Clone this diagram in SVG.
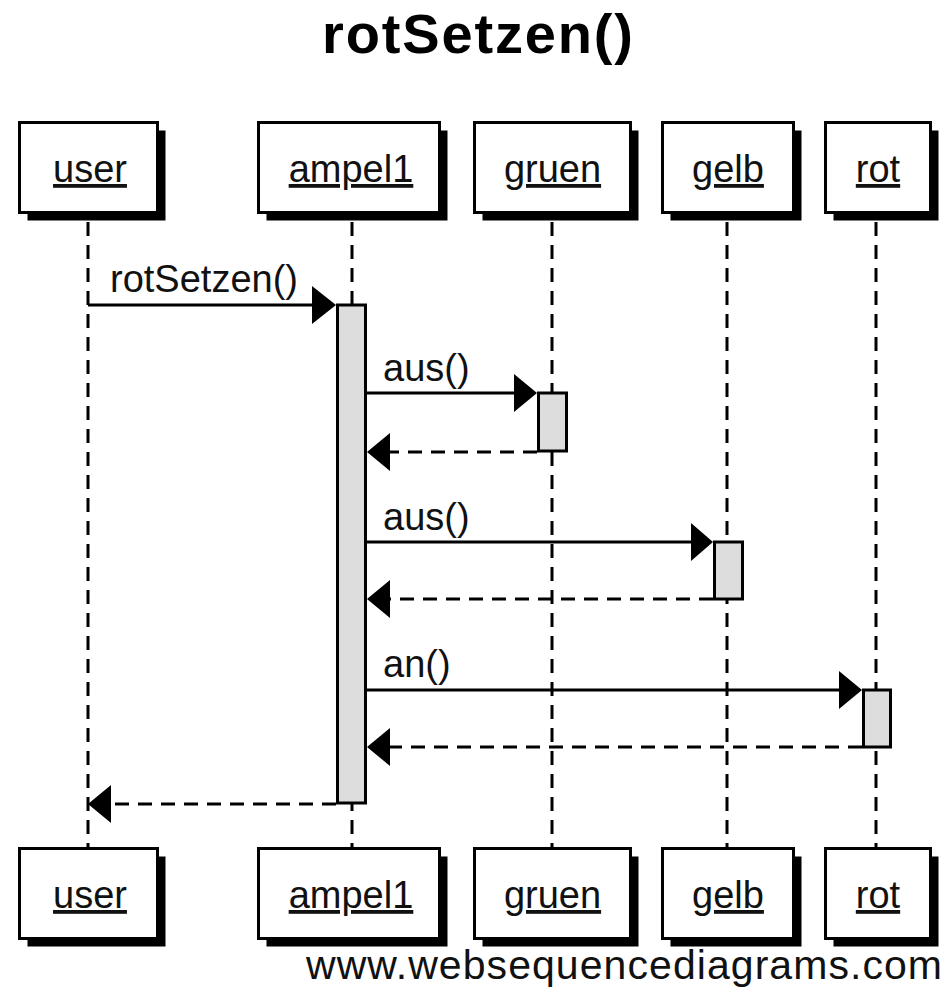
<svg xmlns="http://www.w3.org/2000/svg" width="949" height="990" viewBox="0 0 949 990">
  <defs>
    <style>
      .box { fill: #ffffff; stroke: #000000; stroke-width: 3; }
      .shadow { fill: #000000; }
      .name { font-family: "Liberation Sans", Arial, sans-serif; font-size: 38px; fill: #111111; text-anchor: middle; text-decoration: underline; }
      .life { stroke: #000000; stroke-width: 3; stroke-dasharray: 14 9; fill: none; }
      .act { fill: #dddddd; stroke: #000000; stroke-width: 3; }
      .call { stroke: #000000; stroke-width: 3; fill: none; }
      .ret { stroke: #000000; stroke-width: 3; stroke-dasharray: 14 9; fill: none; }
      .head { fill: #000000; }
      .msg { font-family: "Liberation Sans", Arial, sans-serif; font-size: 38px; fill: #111111; }
      .title { font-family: "Liberation Sans", Arial, sans-serif; font-size: 56px; font-weight: bold; fill: #000000; text-anchor: middle; }
      .mark { font-family: "Liberation Sans", Arial, sans-serif; font-size: 41px; fill: #111111; }
    </style>
  </defs>
  <rect width="949" height="990" fill="#ffffff"/>

  <text class="title" x="477.5" y="53" textLength="311">rotSetzen()</text>

  <!-- lifelines -->
  <g id="lifelines">
    <line class="life" x1="88" y1="222" x2="88" y2="847"/>
    <line class="life" x1="352" y1="222" x2="352" y2="847"/>
    <line class="life" x1="552" y1="222" x2="552" y2="847"/>
    <line class="life" x1="727" y1="222" x2="727" y2="847"/>
    <line class="life" x1="876" y1="222" x2="876" y2="847"/>
  </g>

  <!-- participants, head and foot boxes -->
  <g id="user">
    <rect class="shadow" x="27.5" y="130.5" width="138" height="90"/>
    <rect class="box" x="19.5" y="122.5" width="138" height="90"/>
    <text class="name" x="90" y="182">user</text>
    <rect class="shadow" x="27.5" y="856.5" width="138" height="90"/>
    <rect class="box" x="19.5" y="848.5" width="138" height="90"/>
    <text class="name" x="90" y="908">user</text>
  </g>
  <g id="ampel1">
    <rect class="shadow" x="266.5" y="130.5" width="181" height="90"/>
    <rect class="box" x="258.5" y="122.5" width="181" height="90"/>
    <text class="name" x="351" y="182">ampel1</text>
    <rect class="shadow" x="266.5" y="856.5" width="181" height="90"/>
    <rect class="box" x="258.5" y="848.5" width="181" height="90"/>
    <text class="name" x="351" y="908">ampel1</text>
  </g>
  <g id="gruen">
    <rect class="shadow" x="482.5" y="130.5" width="156" height="90"/>
    <rect class="box" x="474.5" y="122.5" width="156" height="90"/>
    <text class="name" x="552.5" y="182">gruen</text>
    <rect class="shadow" x="482.5" y="856.5" width="156" height="90"/>
    <rect class="box" x="474.5" y="848.5" width="156" height="90"/>
    <text class="name" x="552.5" y="908">gruen</text>
  </g>
  <g id="gelb">
    <rect class="shadow" x="670.5" y="130.5" width="131" height="90"/>
    <rect class="box" x="662.5" y="122.5" width="131" height="90"/>
    <text class="name" x="728" y="182">gelb</text>
    <rect class="shadow" x="670.5" y="856.5" width="131" height="90"/>
    <rect class="box" x="662.5" y="848.5" width="131" height="90"/>
    <text class="name" x="728" y="908">gelb</text>
  </g>
  <g id="rot">
    <rect class="shadow" x="833.5" y="130.5" width="105" height="90"/>
    <rect class="box" x="825.5" y="122.5" width="105" height="90"/>
    <text class="name" x="878" y="182">rot</text>
    <rect class="shadow" x="833.5" y="856.5" width="105" height="90"/>
    <rect class="box" x="825.5" y="848.5" width="105" height="90"/>
    <text class="name" x="878" y="908">rot</text>
  </g>

  <!-- activation bars -->
  <g id="activations">
    <rect class="act" x="337.5" y="305" width="28" height="498"/>
    <rect class="act" x="538.5" y="393" width="28" height="58"/>
    <rect class="act" x="714.5" y="542" width="28" height="57"/>
    <rect class="act" x="863.5" y="690" width="27" height="57"/>
  </g>

  <!-- messages -->
  <g id="connectors">
    <line class="call" x1="88" y1="305" x2="314" y2="305"/>
    <polygon class="head" points="312,286 336,305 312,324"/>
    <text class="msg" x="110" y="292">rotSetzen()</text>

    <line class="call" x1="367" y1="393" x2="516" y2="393"/>
    <polygon class="head" points="514,374 537,393 514,412"/>
    <text class="msg" x="383" y="381">aus()</text>

    <line class="ret" x1="537" y1="452" x2="388" y2="452"/>
    <polygon class="head" points="390,433 367,452 390,471"/>

    <line class="call" x1="367" y1="542" x2="693" y2="542"/>
    <polygon class="head" points="691,523 713,542 691,561"/>
    <text class="msg" x="383" y="530">aus()</text>

    <line class="ret" x1="713" y1="599" x2="388" y2="599"/>
    <polygon class="head" points="390,580 367,599 390,618"/>

    <line class="call" x1="367" y1="690" x2="841" y2="690"/>
    <polygon class="head" points="839,671 862,690 839,709"/>
    <text class="msg" x="383" y="677">an()</text>

    <line class="ret" x1="862" y1="747" x2="388" y2="747"/>
    <polygon class="head" points="390,728 367,747 390,766"/>

    <line class="ret" x1="336" y1="804" x2="109" y2="804"/>
    <polygon class="head" points="111,785 88,804 111,823"/>
  </g>

  <text class="mark" x="306" y="979" textLength="636">www.websequencediagrams.com</text>
</svg>
